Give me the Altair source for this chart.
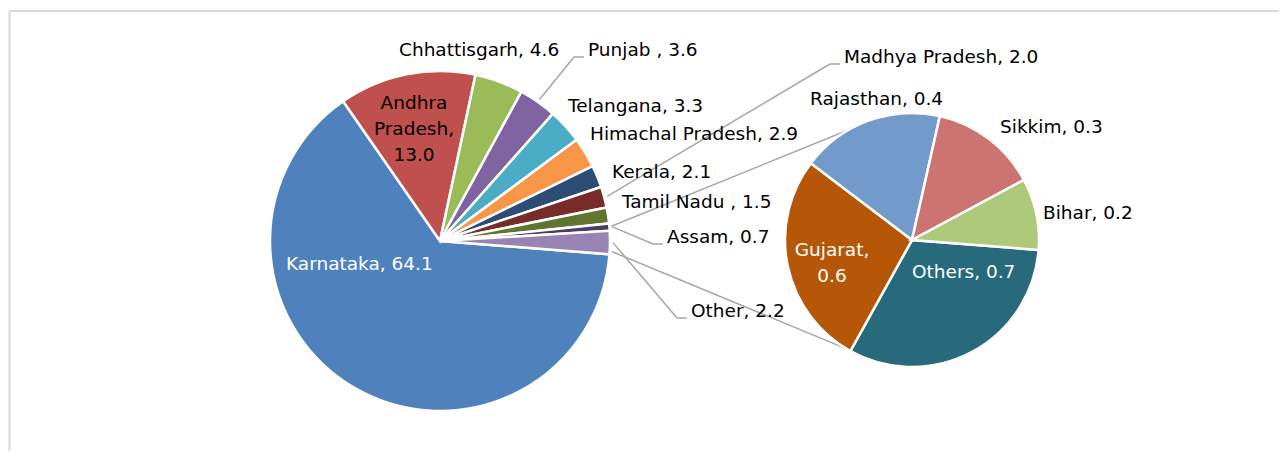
import math
import numpy as np
import pandas as pd
import altair as alt

# ---------------- data ----------------
main_names = ["Karnataka", "Andhra Pradesh", "Chhattisgarh", "Punjab ", "Telangana",
              "Himachal Pradesh", "Kerala", "Madhya Pradesh", "Tamil Nadu ", "Assam", "Other"]
main_values = [64.1, 13.0, 4.6, 3.6, 3.3, 2.9, 2.1, 2.0, 1.5, 0.7, 2.2]
main_colors = ["#4F81BD", "#C0504D", "#9BBB59", "#8064A2", "#4BACC6",
               "#F79646", "#2C4D75", "#772C2A", "#5F7530", "#4D3B62", "#9983B5"]

sub_names = ["Others", "Gujarat", "Rajasthan", "Sikkim", "Bihar"]
sub_values = [0.7, 0.6, 0.4, 0.3, 0.2]
sub_colors = ["#276A7C", "#B65708", "#729ACA", "#CD7371", "#AFC97A"]

# ---------------- layout (page pixels) ----------------
M = 8  # page margin
MAIN_C, MAIN_R = (440, 241), 170
SUB_C, SUB_R = (912, 240), 127
START_DEG = 4.5  # first slice starts this far below 3 o'clock (clockwise)
FONT = "DejaVu Sans"
FS = 18.5

label_layout = {
    "Karnataka": (286, 264, "left", "white"),
    "Andhra Pradesh": (414, 103, "center", "black"),
    "Chhattisgarh": (399, 50, "left", "black"),
    "Punjab ": (588, 50, "left", "black"),
    "Telangana": (568, 106, "left", "black"),
    "Himachal Pradesh": (590, 134, "left", "black"),
    "Kerala": (612, 172, "left", "black"),
    "Madhya Pradesh": (844, 57, "left", "black"),
    "Tamil Nadu ": (622, 202, "left", "black"),
    "Assam": (667, 237, "left", "black"),
    "Other": (691, 311, "left", "black"),
    "Others": (912, 272, "left", "white"),
    "Gujarat": (832, 250, "center", "white"),
    "Rajasthan": (810, 99, "left", "black"),
    "Sikkim": (1000, 127, "left", "black"),
    "Bihar": (1043, 213, "left", "black"),
}
wrapped = {"Andhra Pradesh", "Gujarat"}
leader_for = ["Punjab ", "Madhya Pradesh", "Assam", "Other"]
connector_end_deg = [240.5, 121.0]  # where the pie-of-pie connectors meet the second pie


def polar(c, r, deg):
    a = math.radians(deg)
    return c[0] + r * math.cos(a), c[1] + r * math.sin(a)


# ---------------- tables ----------------
main_df = pd.DataFrame({"name": main_names, "value": main_values, "order": range(len(main_names))})
sub_df = pd.DataFrame({"name": sub_names, "value": sub_values, "order": range(len(sub_names))})

color_scale = alt.Scale(domain=main_names + sub_names, range=main_colors + sub_colors)
start_rad = math.radians(90 + START_DEG)
theta_scale = alt.Scale(domain=[0, 1], range=[start_rad, start_rad + 2 * math.pi])


def pie(df, center, radius):
    return (
        alt.Chart(df)
        .transform_window(cum="sum(value)", sort=[alt.SortField("order")], frame=[None, 0])
        .transform_joinaggregate(total="sum(value)")
        .transform_calculate(t0="(datum.cum - datum.value) / datum.total",
                             t1="datum.cum / datum.total")
        .mark_arc(radius=radius, stroke="white", strokeWidth=2.5)
        .encode(
            theta=alt.Theta("t0:Q", scale=theta_scale),
            theta2="t1:Q",
            color=alt.Color("name:N", scale=color_scale, legend=None),
            x=alt.value(center[0] - M),
            y=alt.value(center[1] - M),
            order=alt.Order("order:Q"),
        )
    )


main_pie = pie(main_df, MAIN_C, MAIN_R)
sub_pie = pie(sub_df, SUB_C, SUB_R)

# labels
rows = []
for names, values in ((main_names, main_values), (sub_names, sub_values)):
    for n, v in zip(names, values):
        x, y, al, col = label_layout[n]
        txt = f"{n}, {v:.1f}"
        if n in wrapped:
            txt = txt.replace(" ", "\n")
        rows.append({"text": txt, "x": x - M, "y": y - M, "align": al, "color": col})
lab_df = pd.DataFrame(rows)


def text_layer(align, color):
    d = lab_df[(lab_df["align"] == align) & (lab_df["color"] == color)]
    return alt.Chart(d).mark_text(
        align=align, baseline="middle", font=FONT, fontSize=FS, color=color,
        lineBreak="\n", lineHeight=26,
    ).encode(x=alt.X("x:Q", scale=None), y=alt.Y("y:Q", scale=None), text="text:N")


labels = [text_layer(a, c) for a, c in sorted({(r["align"], r["color"]) for r in rows})]

# leader lines and connectors (derived from slice geometry)
frac = np.array(main_values) / sum(main_values)
cum = np.cumsum(frac)
segs = []
for n in leader_for:
    i = main_names.index(n)
    mid = START_DEG + 360 * (cum[i] - frac[i] / 2)
    sx, sy = polar(MAIN_C, MAIN_R + 3, mid)
    lx, ly = label_layout[n][0], label_layout[n][1]
    ex, ey = lx - 14, ly + 7
    segs.append((sx, sy, ex, ey))
    segs.append((ex, ey, lx - 4, ey))
i_other = main_names.index("Other")
edge_top = START_DEG + 360 * (cum[i_other] - frac[i_other])
edge_bot = START_DEG + 360 * cum[i_other]
for e_main, e_sub in ((edge_top - 1.5, connector_end_deg[0]), (edge_bot - 1.0, connector_end_deg[1])):
    sx, sy = polar(MAIN_C, MAIN_R + 2, e_main)
    ex, ey = polar(SUB_C, SUB_R, e_sub)
    segs.append((sx, sy, ex, ey))
seg_df = pd.DataFrame([{"x": a - M, "y": b - M, "x2": c - M, "y2": d - M} for a, b, c, d in segs])

leaders = alt.Chart(seg_df).mark_rule(color="#A6A6A6", strokeWidth=1.5).encode(
    x=alt.X("x:Q", scale=None), y=alt.Y("y:Q", scale=None), x2="x2:Q", y2="y2:Q"
)

# outer frame (chart area border of the original, cut by the window)
border_top = alt.Chart(pd.DataFrame({"a": [0]})).mark_rule(color="#D9D9D9", strokeWidth=2).encode(
    x=alt.value(1.5), x2=alt.value(1279), y=alt.value(3)
)
border_left = alt.Chart(pd.DataFrame({"a": [0]})).mark_rule(color="#D9D9D9", strokeWidth=2).encode(
    x=alt.value(1.5), y=alt.value(3), y2=alt.value(451)
)

chart = (
    alt.layer(border_top, border_left, leaders, main_pie, sub_pie, *labels)
    .properties(width=1271, height=443, autosize=alt.AutoSizeParams(type="none"), padding=0)
    .configure_view(stroke=None)
)

chart.save("out.html", embed_options={"renderer": "svg", "actions": False})
